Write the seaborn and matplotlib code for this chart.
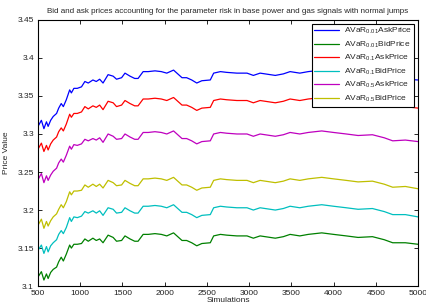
import pandas as pd
import matplotlib
matplotlib.use("Agg")
import matplotlib.pyplot as plt
import seaborn as sns

# simulation counts (x axis)
sims = [500, 540, 570, 600, 620, 650, 680, 720, 745, 775, 800, 835, 875, 895, 925, 965,
        1015, 1055, 1095, 1150, 1190, 1230, 1270, 1330, 1390, 1430, 1490, 1530, 1590, 1645,
        1685, 1745, 1805, 1885, 1960, 2025, 2105, 2165, 2205, 2260, 2320, 2380, 2440, 2540,
        2580, 2660, 2735, 2855, 2975, 3050, 3130, 3250, 3310, 3405, 3485, 3600, 3700, 3860,
        4000, 4150, 4290, 4460, 4600, 4700, 4850, 5000]

ask_001 = [3.310, 3.318, 3.307, 3.316, 3.310, 3.318, 3.323, 3.327, 3.334, 3.340, 3.336, 3.345,
           3.358, 3.354, 3.360, 3.360, 3.362, 3.369, 3.367, 3.371, 3.369, 3.372, 3.367, 3.378,
           3.376, 3.372, 3.374, 3.380, 3.376, 3.373, 3.373, 3.382, 3.382, 3.383, 3.382, 3.380,
           3.384, 3.378, 3.374, 3.374, 3.371, 3.367, 3.370, 3.371, 3.380, 3.382, 3.381, 3.380,
           3.380, 3.377, 3.380, 3.378, 3.377, 3.379, 3.382, 3.380, 3.382, 3.384, 3.382, 3.380,
           3.378, 3.379, 3.375, 3.371, 3.372, 3.371]
bid_001 = [3.112, 3.119, 3.108, 3.116, 3.110, 3.118, 3.122, 3.125, 3.132, 3.138, 3.133, 3.142,
           3.154, 3.150, 3.155, 3.155, 3.156, 3.162, 3.159, 3.163, 3.160, 3.162, 3.157, 3.167,
           3.164, 3.159, 3.160, 3.166, 3.162, 3.159, 3.159, 3.168, 3.168, 3.169, 3.168, 3.166,
           3.170, 3.164, 3.160, 3.160, 3.157, 3.153, 3.156, 3.157, 3.166, 3.168, 3.167, 3.166,
           3.166, 3.163, 3.166, 3.164, 3.163, 3.165, 3.168, 3.166, 3.168, 3.170, 3.168, 3.166,
           3.164, 3.165, 3.161, 3.157, 3.157, 3.155]
ask_01 = [3.280, 3.288, 3.277, 3.285, 3.279, 3.287, 3.292, 3.296, 3.303, 3.308, 3.304, 3.313,
          3.326, 3.322, 3.327, 3.327, 3.329, 3.336, 3.333, 3.337, 3.335, 3.338, 3.332, 3.343,
          3.341, 3.336, 3.338, 3.344, 3.340, 3.337, 3.337, 3.346, 3.346, 3.347, 3.346, 3.344,
          3.348, 3.342, 3.338, 3.338, 3.335, 3.331, 3.334, 3.335, 3.344, 3.346, 3.345, 3.344,
          3.344, 3.341, 3.344, 3.342, 3.341, 3.343, 3.346, 3.344, 3.346, 3.348, 3.346, 3.344,
          3.342, 3.343, 3.339, 3.335, 3.336, 3.334]
bid_01 = [3.147, 3.154, 3.143, 3.152, 3.145, 3.153, 3.157, 3.161, 3.168, 3.173, 3.169, 3.177,
          3.190, 3.185, 3.191, 3.190, 3.192, 3.198, 3.196, 3.199, 3.196, 3.199, 3.193, 3.203,
          3.201, 3.196, 3.197, 3.203, 3.199, 3.196, 3.196, 3.205, 3.205, 3.206, 3.205, 3.203,
          3.207, 3.201, 3.197, 3.197, 3.194, 3.190, 3.193, 3.194, 3.203, 3.205, 3.204, 3.203,
          3.203, 3.200, 3.203, 3.201, 3.200, 3.202, 3.205, 3.203, 3.205, 3.207, 3.205, 3.203,
          3.201, 3.202, 3.198, 3.194, 3.194, 3.191]
ask_05 = [3.240, 3.248, 3.236, 3.245, 3.239, 3.246, 3.251, 3.255, 3.262, 3.267, 3.263, 3.272,
          3.284, 3.280, 3.286, 3.285, 3.287, 3.293, 3.291, 3.294, 3.292, 3.295, 3.289, 3.300,
          3.297, 3.293, 3.294, 3.300, 3.296, 3.293, 3.293, 3.302, 3.302, 3.303, 3.302, 3.300,
          3.304, 3.298, 3.294, 3.294, 3.291, 3.287, 3.290, 3.291, 3.300, 3.302, 3.301, 3.300,
          3.300, 3.297, 3.300, 3.298, 3.297, 3.299, 3.302, 3.300, 3.302, 3.304, 3.302, 3.300,
          3.298, 3.299, 3.295, 3.291, 3.292, 3.290]
bid_05 = [3.180, 3.188, 3.176, 3.185, 3.179, 3.186, 3.191, 3.195, 3.201, 3.207, 3.203, 3.211,
          3.224, 3.220, 3.225, 3.225, 3.226, 3.233, 3.230, 3.234, 3.231, 3.234, 3.229, 3.239,
          3.236, 3.232, 3.233, 3.239, 3.235, 3.232, 3.232, 3.241, 3.241, 3.242, 3.241, 3.239,
          3.243, 3.237, 3.233, 3.233, 3.230, 3.226, 3.229, 3.230, 3.239, 3.241, 3.240, 3.239,
          3.239, 3.236, 3.239, 3.237, 3.236, 3.238, 3.241, 3.239, 3.241, 3.243, 3.241, 3.239,
          3.237, 3.238, 3.234, 3.230, 3.231, 3.228]

labels = [r"AVaR$_{0.01}$AskPrice", r"AVaR$_{0.01}$BidPrice", r"AVaR$_{0.1}$AskPrice",
          r"AVaR$_{0.1}$BidPrice", r"AVaR$_{0.5}$AskPrice", r"AVaR$_{0.5}$BidPrice"]
series = [ask_001, bid_001, ask_01, bid_01, ask_05, bid_05]
colors = ["#0000ff", "#008000", "#ff0000", "#00bfbf", "#bf00bf", "#bfbf00"]

y_ticks = [3.1, 3.15, 3.2, 3.25, 3.3, 3.35, 3.4, 3.45]
y_ticklabels = ["3.1", "3.15", "3.2", "3.25", "3.3", "3.35", "3.4", "3.45"]
x_ticks = [500, 1000, 1500, 2000, 2500, 3000, 3500, 4000, 4500, 5000]

sns.set_style("white")
plt.rcParams["font.family"] = ["Liberation Sans", "DejaVu Sans"]
plt.rcParams["mathtext.fontset"] = "custom"
plt.rcParams["mathtext.rm"] = "Liberation Sans"
plt.rcParams["mathtext.it"] = "Liberation Sans:italic"

fig = plt.figure(figsize=(4.27, 3.06), dpi=100)
ax = fig.add_axes([0.089, 0.065, 0.89, 0.87])

for vals, lab, col in zip(series, labels, colors):
    df = pd.DataFrame({"Simulations": sims, "Price": vals})
    sns.lineplot(data=df, x="Simulations", y="Price", ax=ax, color=col, label=lab, linewidth=0.9)

ax.set_xlim(500, 5000)
ax.set_ylim(3.1, 3.45)
ax.set_xticks(x_ticks)
ax.set_xticklabels([str(t) for t in x_ticks])
ax.set_yticks(y_ticks)
ax.set_yticklabels(y_ticklabels)
ax.tick_params(direction="in", length=3, width=0.7, labelsize=6, top=True, right=True,
               bottom=True, left=True, pad=3, labelcolor="#222222")
for sp in ax.spines.values():
    sp.set_color("black")
    sp.set_linewidth(0.8)

ax.set_title("Bid and ask prices accounting for the parameter risk in base power and gas signals with normal jumps",
             fontsize=5.8, pad=5)
ax.set_xlabel("Simulations", fontsize=6, labelpad=0)
ax.set_ylabel("Price Value", fontsize=6, labelpad=5)

leg = ax.legend(loc="upper right", fontsize=6, frameon=True, fancybox=False, framealpha=1,
                edgecolor="black", handlelength=3.0, borderaxespad=0.45, labelspacing=0.4,
                borderpad=0.3, handletextpad=0.5)
leg.get_frame().set_linewidth(0.8)

fig.savefig("out.png", dpi=100)
